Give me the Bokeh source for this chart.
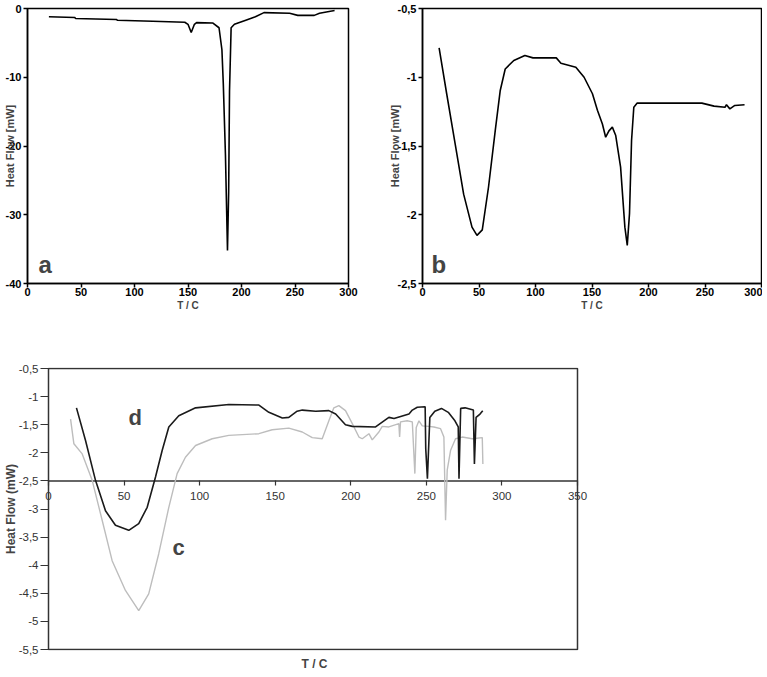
import math
from bokeh.plotting import figure
from bokeh.layouts import column, row
from bokeh.models import Range1d, Label, Title, LinearAxis, FixedTicker
from bokeh.embed import file_html
from bokeh.resources import INLINE

# ---------------- data ----------------
# panel a
a_T = [20, 44, 45, 83, 84, 117, 147, 150, 153, 156, 158, 173, 179, 181.7, 183, 185, 186.9,
       188, 188.8, 190.3, 193.4, 204, 213, 221, 245, 252.6, 268, 272.9, 287]
a_HF = [-1.2, -1.3, -1.45, -1.6, -1.7, -1.85, -2.0, -2.3, -3.5, -2.3, -2.05, -2.1, -2.8, -6.0, -11, -21.3, -35.2,
        -26.7, -12, -2.8, -2.3, -1.7, -1.2, -0.6, -0.7, -1.0, -1.0, -0.7, -0.3]
a_xticks = [0, 50, 100, 150, 200, 250, 300]
a_yticks = [0, -10, -20, -30, -40]
a_ylabels = ["0", "-10", "-20", "-30", "-40"]

# panel b
b_T = [14.7, 21.4, 28.9, 36.4, 43.8, 48.2, 52.9, 58.4, 64.4, 68.8, 73.2, 80.8, 90.6, 97.8, 118.4, 122.5,
       135.7, 143, 150.4, 154.8, 159.2, 162.1, 165, 168, 171, 175.3, 179.1, 181.2, 183.2, 185, 187, 190,
       247.2, 258, 267.7, 269, 272, 276.4, 285]
b_HF = [-0.786, -1.12, -1.484, -1.85, -2.09, -2.15, -2.11, -1.80, -1.387, -1.096, -0.94, -0.878, -0.842, -0.859,
        -0.859, -0.898, -0.927, -1.0, -1.12, -1.24, -1.34, -1.436, -1.39, -1.363, -1.424, -1.654, -2.09, -2.223,
        -1.99, -1.46, -1.218, -1.188, -1.188, -1.21, -1.218, -1.20, -1.23, -1.205, -1.2]
b_xticks = [0, 50, 100, 150, 200, 250, 300]
b_yticks = [-0.5, -1, -1.5, -2, -2.5]
b_ylabels = ["-0,5", "-1", "-1,5", "-2", "-2,5"]

# panel c / d
d_T = [18.5, 24.5, 31.1, 37.7, 44.3, 53.1, 59.7, 65.3, 70.8, 75.2, 79.6, 86.2, 97.3, 119.3, 139.2, 145.8,
       154.7, 159, 164.5, 167.9, 176.7, 185.5, 190, 196.5, 201, 216.4, 225.2, 228.6, 238.5, 240.7, 244, 249.2,
       249.6, 250.7, 252.3, 255.6, 260, 264.5, 268.9, 271.1, 271.6, 272.7, 275.6, 281.1, 281.8, 282.9, 285.5, 287.3]
d_HF = [-1.2, -1.78, -2.49, -3.03, -3.29, -3.38, -3.26, -2.97, -2.43, -1.96, -1.54, -1.34, -1.20, -1.14, -1.15,
        -1.28, -1.38, -1.37, -1.26, -1.24, -1.26, -1.25, -1.31, -1.50, -1.53, -1.54, -1.37, -1.39, -1.31, -1.24,
        -1.19, -1.18, -1.93, -2.46, -1.37, -1.26, -1.21, -1.28, -1.43, -1.54, -2.46, -1.21, -1.2, -1.24, -2.20,
        -1.37, -1.31, -1.25]
c_T = [14.6, 16.8, 22.3, 28.9, 35.5, 42.1, 50.9, 59.7, 66.3, 72.9, 79.6, 85.1, 90.6, 97.3, 108.3, 119.3, 139.2,
       148, 159, 167.9, 174.5, 181.1, 185.5, 188.8, 192.1, 196.5, 201, 205.4, 207.6, 212, 214.2, 218.6, 220.8,
       225.2, 231.8, 232.3, 232.9, 237.3, 240.7, 242.4, 243.3, 245.1, 247.3, 251.7, 255, 259.4, 261.6, 262.7,
       263.8, 266, 269.3, 273.7, 280.4, 287, 287.4]
c_HF = [-1.40, -1.84, -2.02, -2.49, -3.20, -3.92, -4.45, -4.81, -4.51, -3.80, -2.97, -2.37, -2.08, -1.87, -1.75,
        -1.69, -1.66, -1.59, -1.56, -1.63, -1.73, -1.75, -1.43, -1.20, -1.16, -1.25, -1.48, -1.72, -1.75, -1.66,
        -1.77, -1.63, -1.53, -1.54, -1.48, -1.72, -1.45, -1.43, -1.45, -2.37, -1.55, -1.43, -1.52, -1.53, -1.54,
        -1.57, -1.72, -3.20, -2.31, -1.96, -1.75, -1.72, -1.75, -1.73, -2.20]
c_xticks = [0, 50, 100, 150, 200, 250, 300, 350]
c_yticks = [-0.5, -1, -1.5, -2, -2.5, -3, -3.5, -4, -4.5, -5, -5.5]
c_ylabels = ["-0,5", "-1", "-1,5", "-2", "-2,5", "-3", "-3,5", "-4", "-4,5", "-5", "-5,5"]
c_xmin, c_xmax = 0, 350
c_ymin, c_ymax = -5.5, -0.5
c_axis_y = -2.5

SANS = "Liberation Sans"


def small_panel(xr, yr, xticks, yticks, ylabels, b_left, f_width, b_right, ylabel_standoff):
    p = figure(frame_width=f_width, frame_height=275,
               x_range=Range1d(*xr), y_range=Range1d(*yr),
               output_backend="svg", toolbar_location=None,
               min_border_left=b_left, min_border_right=b_right,
               min_border_top=8, min_border_bottom=35)
    p.grid.visible = False
    p.outline_line_color = "black"
    p.outline_line_width = 1.5
    for ax in (p.xaxis[0], p.yaxis[0]):
        ax.axis_line_width = 1.5
        ax.axis_line_color = "black"
        ax.major_tick_out = 4
        ax.major_tick_in = 0
        ax.major_tick_line_width = 1.5
        ax.minor_tick_line_color = None
        ax.major_label_text_font = SANS
        ax.major_label_text_font_style = "bold"
        ax.major_label_text_font_size = "11px"
        ax.major_label_text_color = "black"
        ax.major_label_standoff = 2
    p.xaxis.major_label_standoff = 0
    p.xaxis.ticker = xticks
    p.yaxis.ticker = yticks
    p.yaxis.major_label_overrides = {float(t): l for t, l in zip(yticks, ylabels)}
    p.xaxis.major_label_overrides = {float(t): str(t) for t in xticks}
    p.xaxis.axis_label = "T / C"
    p.xaxis.axis_label_text_font = SANS
    p.xaxis.axis_label_text_font_style = "bold"
    p.xaxis.axis_label_text_font_size = "10px"
    p.xaxis.axis_label_standoff = 1
    p.yaxis.axis_label = "Heat Flow [mW]"
    p.yaxis.axis_label_text_font = SANS
    p.yaxis.axis_label_text_font_style = "bold"
    p.yaxis.axis_label_text_font_size = "11px"
    p.yaxis.axis_label_standoff = ylabel_standoff
    return p


# ---- panel a ----
pa = small_panel((0, 300), (-40, 0), a_xticks, a_yticks, a_ylabels, 24, 321, 37, -13)
pa.line(a_T, a_HF, line_color="black", line_width=1.6)
pa.add_layout(Label(x=10.3, y=-37.3, text="a", text_font=SANS, text_font_style="bold",
                    text_font_size="24px", text_align="left", text_baseline="alphabetic"))

# ---- panel b ----
pb = small_panel((0, 300), (-2.5, -0.5), b_xticks, b_yticks, b_ylabels, 33, 339, 1, -6)
pb.line(b_T, b_HF, line_color="black", line_width=1.6)
pb.add_layout(Label(x=7.9, y=-2.362, text="b", text_font=SANS, text_font_style="bold",
                    text_font_size="24px", text_align="left", text_baseline="alphabetic"))

# ---- panel c/d ----
# the frame is a little wider than the box so that the crossing axis labels "0" and "350" stay visible
PX_PER_X = 1.511
PX_PER_Y = 56.2
pad_l, pad_r, pad_v = 8, 11, 1
xr = Range1d(c_xmin - pad_l / PX_PER_X, c_xmax + pad_r / PX_PER_X)
yr = Range1d(c_ymin - pad_v / PX_PER_Y, c_ymax + pad_v / PX_PER_Y)
pc = figure(frame_width=round((c_xmax - c_xmin) * PX_PER_X) + pad_l + pad_r,
            frame_height=round((c_ymax - c_ymin) * PX_PER_Y) + 2 * pad_v,
            x_range=xr, y_range=yr,
            output_backend="svg", toolbar_location=None, x_axis_location=None,
            min_border_left=38, min_border_right=2, min_border_top=49, min_border_bottom=22)
pc.grid.visible = False
pc.outline_line_color = None
ya = pc.yaxis[0]
ya.ticker = c_yticks
ya.major_label_overrides = {float(t): l for t, l in zip(c_yticks, c_ylabels)}
ya.axis_line_color = None
ya.major_tick_out = 0
ya.major_tick_in = pad_l
ya.major_tick_line_color = "#333333"
ya.major_tick_line_width = 1.2
ya.minor_tick_line_color = None
ya.major_label_text_font = SANS
ya.major_label_text_font_size = "11.5px"
ya.major_label_text_color = "#333333"
ya.major_label_standoff = 2
ya.axis_label = "Heat Flow (mW)"
ya.axis_label_text_font = SANS
ya.axis_label_text_font_style = "bold"
ya.axis_label_text_font_size = "12px"
ya.axis_label_standoff = -2

# box around the data area
pc.quad(left=[c_xmin], right=[c_xmax], bottom=[c_ymin], top=[c_ymax], fill_color=None,
        line_color="#333333", line_width=1.5)

# x axis crossing at y = -2.5
xa = LinearAxis(fixed_location=c_axis_y, ticker=FixedTicker(ticks=c_xticks))
xa.axis_line_color = None
xa.major_tick_out = 5
xa.major_tick_in = 0
xa.major_tick_line_color = "#333333"
xa.major_tick_line_width = 1.2
xa.minor_tick_line_color = None
xa.major_label_text_font = SANS
xa.major_label_text_font_size = "11.5px"
xa.major_label_text_color = "#333333"
xa.major_label_standoff = 6
pc.add_layout(xa, "below")
pc.line([c_xmin, c_xmax], [c_axis_y, c_axis_y], line_color="#333333", line_width=1.5)
pc.add_layout(Title(text="T / C", align="center", text_font=SANS, text_font_style="bold",
                    text_font_size="12px", standoff=8), "below")

pc.line(c_T, c_HF, line_color="#bdbdbd", line_width=1.4)
pc.line(d_T, d_HF, line_color="#1a1a1a", line_width=1.6)

pc.add_layout(Label(x=53, y=-1.37, text="d", text_font=SANS, text_font_style="bold",
                    text_font_size="22px", text_align="left", text_baseline="alphabetic"))
pc.add_layout(Label(x=82, y=-3.685, text="c", text_font=SANS, text_font_style="bold",
                    text_font_size="22px", text_align="left", text_baseline="alphabetic"))

layout = column(row(pa, pb), pc)
open("out.html", "w").write(file_html(layout, INLINE))
